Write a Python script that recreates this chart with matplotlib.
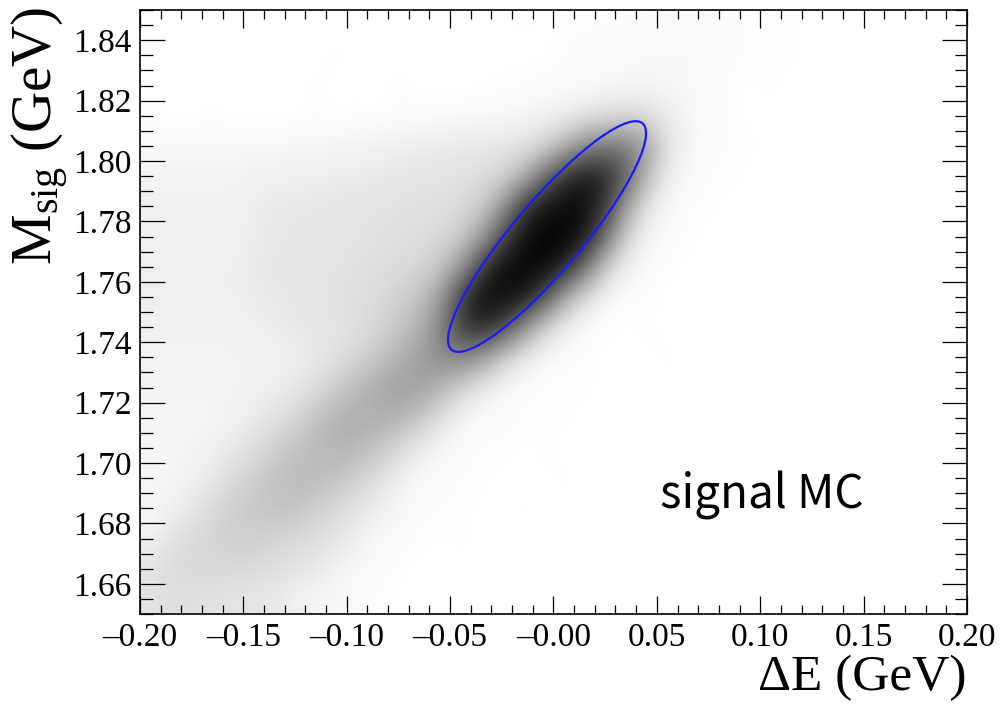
import matplotlib

matplotlib.use("Agg")
import matplotlib.pyplot as plt
import matplotlib.transforms as transforms
import numpy as np
from matplotlib.colors import LinearSegmentedColormap
from matplotlib.patches import Ellipse
from matplotlib.ticker import FixedLocator, FixedFormatter, MultipleLocator

# --- data -------------------------------------------------------------------
# scatter density, 0.01 x 0.01 GeV cells,
# rows from M = 1.85 (top) down to 1.65, columns from dE = -0.20 to 0.20
density = [
    [0]*18 + [1, 0, 1, 1, 1, 1, 2, 2, 2, 2, 2, 1, 1, 1] + [0]*8,
    [0]*9 + [1] + [0]*10 + [1, 2, 2, 2, 3, 3, 3, 2, 2, 1, 0, 1] + [0]*8,
    [0]*8 + [1, 0, 0, 0, 1, 0, 0, 0, 0, 1, 1, 2, 2, 2, 3, 4, 4, 3, 3, 2, 1, 0, 1] + [0]*9,
    [1, 0, 0, 1, 0, 0, 0, 0, 1, 0, 1, 0, 2, 2, 2, 2, 3, 3, 4, 5, 7, 9, 12, 14, 13, 8, 4, 2, 1] + [0]*11,
    [3, 3, 3, 3, 3, 3, 3, 4, 4, 5, 5, 6, 6, 7, 8, 9, 9, 10, 11, 15, 28, 45, 52, 50, 38, 12, 4, 2, 1, 1] + [0]*10,
    [5, 5, 5, 5, 5, 6, 7, 7, 7, 8, 8, 9, 10, 11, 11, 12, 13, 16, 28, 55, 80, 90, 85, 65, 28, 7, 3, 1, 1] + [0]*11,
    [6, 6, 6, 6, 6, 8, 9, 9, 10, 10, 11, 11, 12, 12, 13, 14, 20, 38, 75, 92, 96, 94, 80, 38, 10, 3, 1, 1] + [0]*12,
    [6, 6, 6, 6, 6, 8, 9, 10, 10, 11, 11, 12, 13, 13, 15, 20, 35, 70, 92, 98, 98, 92, 58, 18, 5, 2, 1] + [0]*13,
    [7, 7, 7, 7, 7, 9, 10, 10, 11, 11, 12, 13, 14, 16, 22, 38, 75, 94, 98, 98, 88, 58, 20, 6, 2, 1] + [0]*14,
    [7, 7, 7, 7, 7, 8, 9, 10, 11, 12, 13, 15, 18, 24, 36, 75, 94, 96, 92, 72, 35, 12, 4, 1, 1] + [0]*15,
    [6, 6, 6, 6, 6, 7, 8, 9, 10, 11, 13, 16, 22, 30, 48, 75, 85, 74, 46, 18, 6, 2, 1, 0, 1] + [0]*15,
    [5, 5, 5, 5, 5, 6, 6, 7, 9, 12, 16, 22, 30, 38, 45, 48, 40, 20, 8, 3, 2, 1, 0, 0, 0, 1] + [0]*14,
    [5, 5, 5, 5, 5, 6, 7, 9, 13, 20, 27, 34, 38, 37, 30, 18, 8, 3, 2, 1, 0, 1] + [0]*18,
    [4, 4, 4, 4, 6, 8, 11, 16, 24, 30, 32, 32, 30, 23, 12, 5, 2, 2, 1, 0, 1] + [0]*19,
    [4, 4, 5, 6, 9, 13, 19, 24, 27, 30, 28, 23, 16, 8, 4, 2, 1, 1, 0, 1] + [0]*20,
    [4, 4, 6, 9, 15, 19, 24, 27, 27, 24, 19, 13, 6, 3, 2, 1, 1, 0, 0, 0, 1] + [0]*19,
    [3, 6, 9, 15, 19, 22, 24, 24, 19, 15, 11, 6, 4, 2, 1, 1, 0, 0, 1] + [0]*21,
    [6, 11, 15, 17, 19, 19, 17, 15, 13, 11, 6, 3, 2, 1, 0, 1] + [0]*24,
    [11, 15, 15, 16, 15, 15, 13, 11, 9, 5, 3, 2, 1] + [0]*27,
    [11, 13, 13, 11, 11, 10, 9, 6, 4, 3, 2, 1] + [0]*28,
]
x_range = (-0.20, 0.20)
y_range = (1.65, 1.85)

x_ticks = [-0.20, -0.15, -0.10, -0.05, 0.00, 0.05, 0.10, 0.15, 0.20]
x_ticklabels = ["\u20130.20", "\u20130.15", "\u20130.10", "\u20130.05", "\u20130.00",
                "0.05", "0.10", "0.15", "0.20"]
y_ticks = [1.66, 1.68, 1.70, 1.72, 1.74, 1.76, 1.78, 1.80, 1.82, 1.84]
y_ticklabels = ["1.66", "1.68", "1.70", "1.72", "1.74", "1.76", "1.78", "1.80", "1.82", "1.84"]

# signal-region ellipse: centre, widths and correlation
ell_cx, ell_cy = -0.0031, 1.775
ell_sx, ell_sy = 0.0479, 0.0382
ell_rho = 0.895

# --- style ------------------------------------------------------------------
plt.rcParams.update({
    "font.family": ["Liberation Serif", "DejaVu Serif"],
    "mathtext.fontset": "custom",
    "mathtext.rm": "Liberation Serif",
    "mathtext.it": "Liberation Serif:italic",
    "axes.linewidth": 1.2,
})

fig = plt.figure(figsize=(10.04, 7.07), dpi=100)
ax = fig.add_axes([0.1394, 0.1315, 0.8237, 0.8543])

cmap = LinearSegmentedColormap.from_list("ink", ["white", "black"])
ax.imshow(np.array(density), cmap=cmap, vmin=0, vmax=100,
          extent=[x_range[0], x_range[1], y_range[0], y_range[1]],
          origin="upper", aspect="auto", interpolation="bicubic")

ell = Ellipse((0, 0), width=2 * np.sqrt(1 + ell_rho), height=2 * np.sqrt(1 - ell_rho),
              facecolor="none", edgecolor="#1a1aff", lw=1.6)
ell.set_transform(transforms.Affine2D().rotate_deg(45).scale(ell_sx, ell_sy)
                  .translate(ell_cx, ell_cy) + ax.transData)
ax.add_patch(ell)

ax.set_xlim(*x_range)
ax.set_ylim(*y_range)

ax.xaxis.set_major_locator(FixedLocator(x_ticks))
ax.xaxis.set_major_formatter(FixedFormatter(x_ticklabels))
ax.xaxis.set_minor_locator(MultipleLocator(0.01))
ax.yaxis.set_major_locator(FixedLocator(y_ticks))
ax.yaxis.set_major_formatter(FixedFormatter(y_ticklabels))
ax.yaxis.set_minor_locator(MultipleLocator(0.005))

ax.tick_params(axis="x", which="major", direction="in", length=13, width=0.9,
               top=True, labelsize=24, pad=6)
ax.tick_params(axis="x", which="minor", direction="in", length=6.5, width=0.9, top=True)
ax.tick_params(axis="y", which="major", direction="in", length=18, width=0.9,
               right=True, labelsize=24, pad=6)
ax.tick_params(axis="y", which="minor", direction="in", length=9, width=0.9, right=True)

ax.set_xlabel("\u0394E (GeV)", fontsize=37, loc="right")
ax.xaxis.set_label_coords(1.0, -0.068)
ax.set_ylabel(r"M$_{\rm sig}$ (GeV)", fontsize=41, loc="top")
ax.yaxis.set_label_coords(-0.083, 1.005)

ax.text(0.629, 0.1755, "signal MC", transform=ax.transAxes, fontsize=33,
        family=["Noto Sans CJK SC", "DejaVu Sans"], va="baseline", ha="left")

fig.savefig("out.png", dpi=100)
plt.close(fig)
